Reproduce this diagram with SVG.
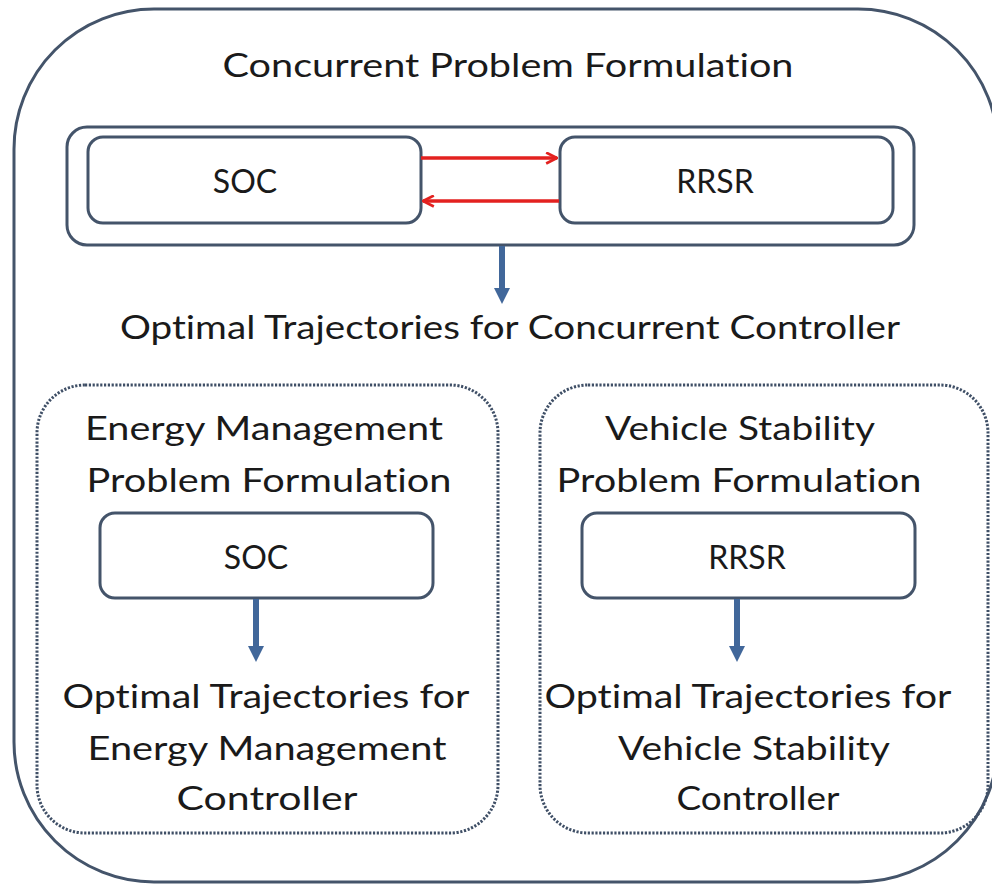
<svg xmlns="http://www.w3.org/2000/svg" width="992" height="888" viewBox="0 0 992 888">
<style>
.box{fill:#ffffff;stroke:#44546a;stroke-width:3}
.dot{fill:none;stroke:#3f4f66;stroke-width:3;stroke-dasharray:2.2 1.6}
.t{font-family:Lato,"Open Sans","Liberation Sans",sans-serif;font-size:32px;fill:#1a1a1a;text-anchor:middle;font-variant-ligatures:none}
.red{stroke:#e3211f;stroke-width:3.5;fill:none}
.blue{stroke:#41679a;stroke-width:6;fill:none}
</style>
<defs>
<marker id="ra" viewBox="0 0 12 12" refX="11" refY="6" markerWidth="13" markerHeight="13" markerUnits="userSpaceOnUse" orient="auto">
<path d="M1,1 L11,6 L1,11" fill="none" stroke="#e3211f" stroke-width="2.5"/>
</marker>
<marker id="ba" viewBox="0 0 10 10" refX="5" refY="5" markerWidth="16" markerHeight="16" markerUnits="userSpaceOnUse" orient="auto">
<path d="M0,0 L10,5 L0,10 Z" fill="#41679a"/>
</marker>
</defs>
<rect width="992" height="888" fill="#ffffff"/>
<g id="outer">
<rect x="14" y="9" width="984" height="873" rx="140" ry="140" fill="none" stroke="#44546a" stroke-width="3"/>
<text class="t" x="508" y="77" textLength="571" lengthAdjust="spacingAndGlyphs">Concurrent Problem Formulation</text>
</g>
<g id="concurrent-group">
<rect class="box" x="67" y="127" width="847" height="118" rx="20"/>
</g>
<g id="soc-top">
<rect class="box" x="88" y="137" width="333" height="86" rx="15"/>
<text class="t" x="245" y="193">SOC</text>
</g>
<g id="rrsr-top">
<rect class="box" x="560" y="137" width="333" height="86" rx="15"/>
<text class="t" x="715" y="193">RRSR</text>
</g>
<g id="concurrent-output">
<text class="t" x="510" y="339" textLength="780" lengthAdjust="spacingAndGlyphs">Optimal Trajectories for Concurrent Controller</text>
</g>
<g id="energy-group">
<rect class="dot" x="37" y="385" width="461" height="448" rx="48"/>
<text class="t" x="264" y="440" textLength="358" lengthAdjust="spacingAndGlyphs">Energy Management</text>
<text class="t" x="269" y="492" textLength="365" lengthAdjust="spacingAndGlyphs">Problem Formulation</text>
</g>
<g id="soc-bottom">
<rect class="box" x="100" y="513" width="333" height="85" rx="15"/>
<text class="t" x="256" y="569">SOC</text>
</g>
<g id="energy-output">
<text class="t" x="266" y="708" textLength="407" lengthAdjust="spacingAndGlyphs">Optimal Trajectories for</text>
<text class="t" x="267" y="760" textLength="359" lengthAdjust="spacingAndGlyphs">Energy Management</text>
<text class="t" x="267" y="810" textLength="181" lengthAdjust="spacingAndGlyphs">Controller</text>
</g>
<g id="stability-group">
<rect class="dot" x="540" y="385" width="448" height="448" rx="48"/>
<text class="t" x="740" y="440" textLength="270" lengthAdjust="spacingAndGlyphs">Vehicle Stability</text>
<text class="t" x="739" y="492" textLength="365" lengthAdjust="spacingAndGlyphs">Problem Formulation</text>
</g>
<g id="rrsr-bottom">
<rect class="box" x="582" y="513" width="333" height="85" rx="15"/>
<text class="t" x="747" y="569">RRSR</text>
</g>
<g id="stability-output">
<text class="t" x="748" y="708" textLength="407" lengthAdjust="spacingAndGlyphs">Optimal Trajectories for</text>
<text class="t" x="754" y="760" textLength="272" lengthAdjust="spacingAndGlyphs">Vehicle Stability</text>
<text class="t" x="758" y="810" textLength="163" lengthAdjust="spacingAndGlyphs">Controller</text>
</g>
<g id="connectors">
<line class="red" x1="421" y1="158" x2="557" y2="158" marker-end="url(#ra)"/>
<line class="red" x1="559" y1="201" x2="423" y2="201" marker-end="url(#ra)"/>
<line class="blue" x1="502" y1="246" x2="502" y2="296" marker-end="url(#ba)"/>
<line class="blue" x1="256" y1="599" x2="256" y2="654" marker-end="url(#ba)"/>
<line class="blue" x1="737" y1="599" x2="737" y2="654" marker-end="url(#ba)"/>
</g>
</svg>
